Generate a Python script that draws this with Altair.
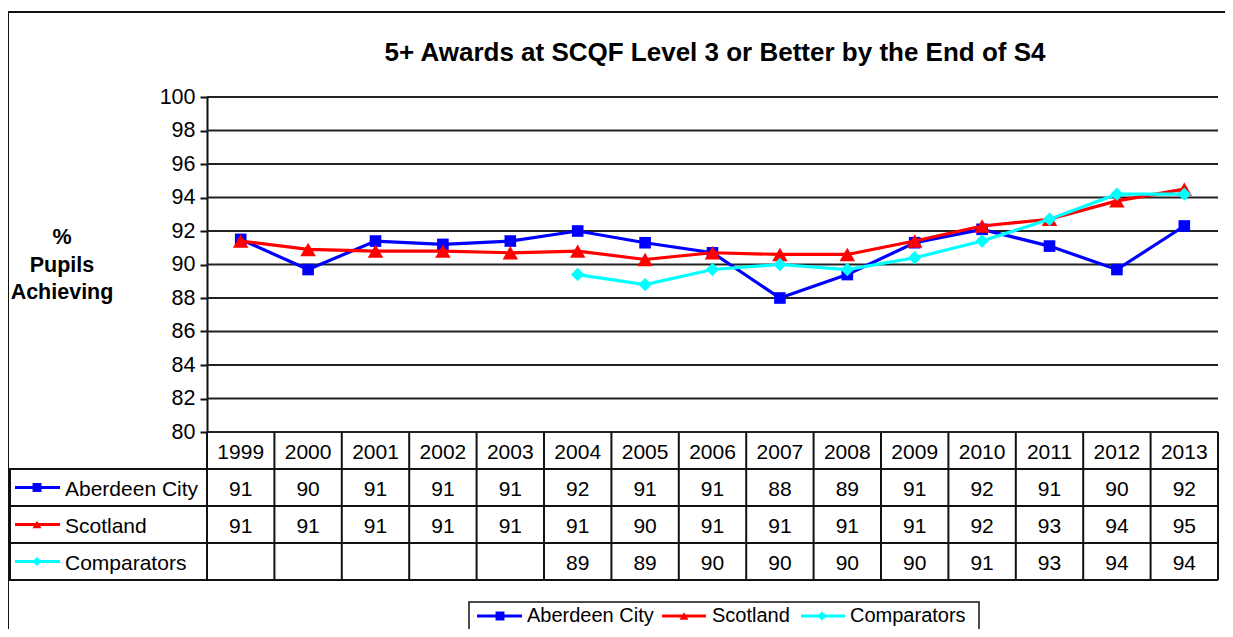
import altair as alt
import pandas as pd

# ---------------- data ----------------
years = list(range(1999, 2014))
series = ["Aberdeen City", "Scotland", "Comparators"]
aberdeen = [91.5, 89.7, 91.4, 91.2, 91.4, 92.0, 91.3, 90.7, 88.0, 89.4, 91.3, 92.1, 91.1, 89.7, 92.3]
scotland = [91.4, 90.9, 90.8, 90.8, 90.7, 90.8, 90.3, 90.7, 90.6, 90.6, 91.4, 92.3, 92.7, 93.8, 94.5]
comparators = [None, None, None, None, None, 89.4, 88.8, 89.7, 90.0, 89.7, 90.4, 91.4, 92.7, 94.2, 94.2]

table_aberdeen = ["91", "90", "91", "91", "91", "92", "91", "91", "88", "89", "91", "92", "91", "90", "92"]
table_scotland = ["91", "91", "91", "91", "91", "91", "90", "91", "91", "91", "91", "92", "93", "94", "95"]
table_comparators = ["", "", "", "", "", "89", "89", "90", "90", "90", "90", "91", "93", "94", "94"]

y_ticks = list(range(80, 101, 2))
title_text = "5+ Awards at SCQF Level 3 or Better by the End of S4"
y_title = ["%", "Pupils", "Achieving"]

# ---------------- styling / layout ----------------
colors = ["#0000FF", "#FF0000", "#00FFFF"]
shapes = ["square", "triangle-up", "diamond"]
sizes = [135, 240, 180]
FONT = "Liberation Sans"
W, H = 1217, 621
PL, PR, PT, PB = 199, 1210, 89, 424

xscale = alt.Scale(domain=[1998.5, 2013.5], range=[PL, PR], nice=False, zero=False)
yscale = alt.Scale(domain=[80, 100], range=[PB, PT], nice=False, zero=False)
tscale = alt.Scale(domain=[0, 4], range=[PB, 572], nice=False, zero=False)

one = pd.DataFrame({"a": [0]})

# frame (only top / left visible, rest clipped)
frame = alt.Chart(one).mark_rect(fillOpacity=0, stroke="#111", strokeWidth=2).encode(
    x=alt.value(0), x2=alt.value(W + 40), y=alt.value(4), y2=alt.value(H + 40)
)

title = alt.Chart(one).mark_text(
    text=title_text, font=FONT, fontSize=26, fontWeight="bold", align="center",
    baseline="alphabetic", color="black"
).encode(x=alt.value(707), y=alt.value(53))

ylab = alt.Chart(one).mark_text(
    text=y_title, font=FONT, fontSize=21.5, fontWeight="bold", align="center",
    baseline="alphabetic", lineHeight=27.5, color="black"
).encode(x=alt.value(54), y=alt.value(236))

# gridlines + y axis
grid = alt.Chart(pd.DataFrame({"tick": y_ticks})).mark_rule(color="#222", strokeWidth=2).encode(
    y=alt.Y("tick:Q", scale=yscale, axis=alt.Axis(
        values=y_ticks, offset=-PL, title=None, grid=False,
        domain=True, domainColor="#111", domainWidth=2,
        ticks=True, tickColor="#111", tickWidth=2, tickSize=7,
        labelFont=FONT, labelFontSize=21.5, labelColor="black", labelPadding=5
    )),
    x=alt.X(datum=1998.5, type="quantitative", scale=xscale, axis=None),
    x2=alt.X2(datum=2013.5),
)

# series lines
rows = []
for s, vals in zip(series, [aberdeen, scotland, comparators]):
    for yr, v in zip(years, vals):
        if v is not None:
            rows.append({"series": s, "year": yr, "value": v})
long_df = pd.DataFrame(rows)

series_layers = []
for s, col, shp, sz in zip(series, colors, shapes, sizes):
    d = long_df[long_df["series"] == s]
    base = alt.Chart(d).encode(
        x=alt.X("year:Q", scale=xscale, axis=None),
        y=alt.Y("value:Q", scale=yscale, axis=None),
    )
    series_layers.append(base.mark_line(color=col, strokeWidth=3.2))
    series_layers.append(base.mark_point(shape=shp, filled=True, color=col, size=sz, opacity=1))

# table
hl = alt.Chart(pd.DataFrame({"r": [1, 2, 3, 4]})).mark_rule(color="#111", strokeWidth=2).encode(
    y=alt.Y("r:Q", scale=tscale, axis=None), x=alt.value(1), x2=alt.value(PR)
)
vl = alt.Chart(pd.DataFrame({"b": [1998.5 + k for k in range(16)]})).mark_rule(color="#111", strokeWidth=2).encode(
    x=alt.X("b:Q", scale=xscale, axis=None),
    y=alt.Y(datum=0, type="quantitative", scale=tscale, axis=None),
    y2=alt.Y2(datum=4),
)
left_border = alt.Chart(one).mark_rule(color="#111", strokeWidth=2).encode(
    x=alt.value(2),
    y=alt.Y(datum=1, type="quantitative", scale=tscale, axis=None),
    y2=alt.Y2(datum=4),
)

cells = []
for yr in years:
    cells.append({"year": yr, "rc": 0.5, "label": str(yr)})
for r, labels in enumerate([table_aberdeen, table_scotland, table_comparators], start=1):
    for yr, lab in zip(years, labels):
        cells.append({"year": yr, "rc": r + 0.5, "label": lab})
cells_df = pd.DataFrame(cells)
cell_text = alt.Chart(cells_df).mark_text(
    font=FONT, fontSize=21, color="black", align="center", baseline="middle", dy=2
).encode(
    x=alt.X("year:Q", scale=xscale, axis=None),
    y=alt.Y("rc:Q", scale=tscale, axis=None),
    text="label:N",
)

rowlab_df = pd.DataFrame({"series": series, "rc": [1.5, 2.5, 3.5]})
color_scale = alt.Scale(domain=series, range=colors)
shape_scale = alt.Scale(domain=series, range=shapes)
row_key_line = alt.Chart(rowlab_df).mark_rule(strokeWidth=3).encode(
    x=alt.value(7), x2=alt.value(52),
    y=alt.Y("rc:Q", scale=tscale, axis=None),
    color=alt.Color("series:N", scale=color_scale, legend=None),
)
row_key_pt = alt.Chart(rowlab_df).mark_point(filled=True, size=80, opacity=1).encode(
    x=alt.value(29),
    y=alt.Y("rc:Q", scale=tscale, axis=None),
    color=alt.Color("series:N", scale=color_scale, legend=None),
    shape=alt.Shape("series:N", scale=shape_scale, legend=None),
)
row_key_text = alt.Chart(rowlab_df).mark_text(
    font=FONT, fontSize=21, color="black", align="left", baseline="middle", dy=2
).encode(
    x=alt.value(57),
    y=alt.Y("rc:Q", scale=tscale, axis=None),
    text="series:N",
)

# bottom legend
LEG_Y = 608
legend_box = alt.Chart(one).mark_rect(fill="white", stroke="#111", strokeWidth=1.5).encode(
    x=alt.value(461), x2=alt.value(971), y=alt.value(594), y2=alt.value(H + 40)
)
legend_layers = [legend_box]
leg_pos = [(469, 514, 492, 519), (654, 698, 676, 704), (793, 837, 814, 842)]
for s, col, shp, (lx1, lx2, mx, tx) in zip(series, colors, shapes, leg_pos):
    legend_layers.append(alt.Chart(one).mark_rule(color=col, strokeWidth=3).encode(
        x=alt.value(lx1), x2=alt.value(lx2), y=alt.value(LEG_Y)))
    legend_layers.append(alt.Chart(one).mark_point(shape=shp, filled=True, color=col, size=80, opacity=1).encode(
        x=alt.value(mx), y=alt.value(LEG_Y)))
    legend_layers.append(alt.Chart(one).mark_text(
        text=s, font=FONT, fontSize=20, color="black", align="left", baseline="middle", dy=0
    ).encode(x=alt.value(tx), y=alt.value(LEG_Y)))

chart = alt.layer(
    frame, title, ylab, grid, *series_layers,
    hl, vl, left_border, cell_text, row_key_line, row_key_pt, row_key_text,
    *legend_layers
).resolve_scale(y="independent").properties(
    width=W, height=H, autosize=alt.AutoSizeParams(type="none"), padding=0, background="white"
).configure_view(strokeWidth=0)

chart.save("out.html", embed_options={"renderer": "svg", "actions": False})
